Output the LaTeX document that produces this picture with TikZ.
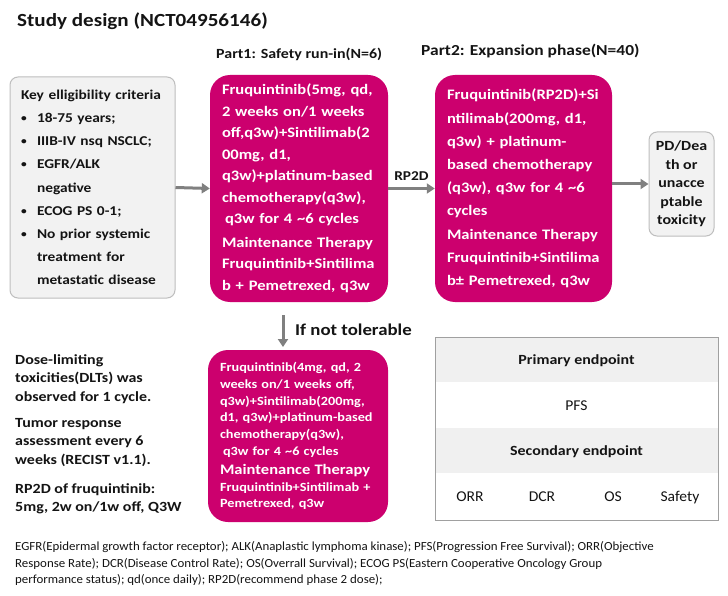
\documentclass[tikz,border=0pt]{standalone}
\usepackage{fontspec}
\setmainfont{Carlito}[BoldFeatures={FakeStretch=1.14}, UprightFeatures={FakeStretch=1.04}]
\usetikzlibrary{arrows.meta,calc}
\definecolor{pinkc}{RGB}{204,0,110}
\definecolor{boxgray}{RGB}{242,242,242}
\definecolor{bordergray}{RGB}{190,190,190}
\definecolor{arrowgray}{RGB}{128,128,128}
\definecolor{tblgray}{RGB}{240,240,240}
\definecolor{tblborder}{RGB}{160,160,160}
\definecolor{txt}{RGB}{20,20,20}
\tikzset{
  pinkbox/.style={fill=pinkc, rounded corners=20pt, text=white, align=left, inner xsep=12pt, inner ysep=0pt,
    font=\bfseries\fontsize{14.5}{21.5}\selectfont},
  graybox/.style={fill=boxgray, draw=bordergray, line width=1pt, rounded corners=8pt, text=txt, inner ysep=0pt},
  garrow/.style={draw=arrowgray, line width=3pt, -{Triangle[length=8pt,width=10pt]}},
  lbl/.style={anchor=base west, inner sep=0pt, text=txt},
  tcell/.style={anchor=base, inner sep=0pt, text=txt, font=\fontsize{15}{18}\selectfont},
  lowtxt/.style={anchor=north west, inner sep=0pt, text=txt, align=left, font=\bfseries\fontsize{14}{18.5}\selectfont},
}
\newcommand{\bul}{\makebox[16pt][l]{\raisebox{1pt}{\fontsize{10}{10}\selectfont\textbullet}}}
\begin{document}
\begin{tikzpicture}[x=1pt,y=-1pt]
\useasboundingbox[fill=white] (0,0) rectangle (728,596);

% title and part labels
\node[lbl, font=\bfseries\fontsize{18.5}{22}\selectfont] (title) at (17,27) {Study design (NCT04956146)};
\node[lbl, font=\bfseries\fontsize{14}{16}\selectfont] (part1) at (216,59) {Part1: Safety run-in(N=6)};
\node[lbl, font=\bfseries\fontsize{15.3}{18}\selectfont] (part2) at (421,56) {Part2: Expansion phase(N=40)};

% criteria box
\node[graybox, minimum width=165pt, minimum height=221pt, text width=143pt, inner xsep=11pt, align=left,
  font=\bfseries\fontsize{13.5}{23.2}\selectfont] (crit) at (92.5,187.5)
{Key elligibility criteria\\
\bul 18-75 years;\\
\bul IIIB-IV nsq NSCLC;\\
\bul EGFR/ALK\\
\hspace*{16pt}negative\\
\bul ECOG PS 0-1;\\
\bul No prior systemic\\
\hspace*{16pt}treatment for\\
\hspace*{16pt}metastatic disease};

% pink box 1
\node[pinkbox, minimum width=178pt, minimum height=227pt, text width=154pt] (p1) at (299,188.5)
{Fruquintinib(5mg, qd,\\
2 weeks on/1 weeks\\
off,q3w)+Sintilimab(2\\
00mg, d1,\\
q3w)+platinum-based\\
chemotherapy(q3w),\\
\hspace*{3pt}q3w for 4 \textasciitilde6 cycles\\[2pt]
Maintenance Therapy\\
Fruquintinib+Sintilima\\
b + Pemetrexed, q3w};

% pink box 2
\node[pinkbox, minimum width=177pt, minimum height=227pt, text width=153pt,
  font=\bfseries\fontsize{14.5}{23.2}\selectfont] (p2) at (523.5,188.5)
{Fruquintinib(RP2D)+Si\\
ntilimab(200mg, d1,\\
q3w) + platinum-\\
based chemotherapy\\
(q3w), q3w for 4 \textasciitilde6\\
cycles\\
Maintenance Therapy\\
Fruquintinib+Sintilima\\
b\textpm{} Pemetrexed, q3w};

% PD box
\node[graybox, minimum width=65pt, minimum height=104pt, inner xsep=2pt, align=center,
  font=\bfseries\fontsize{14}{18.5}\selectfont] (pd) at (681.5,184)
{PD/Dea\\th or\\unacce\\ptable\\toxicity};

% pink box 3
\node[pinkbox, minimum width=180pt, minimum height=172pt, text width=156pt,
  font=\bfseries\fontsize{12.5}{16.8}\selectfont] (p3) at (298,436)
{Fruquintinib(4mg, qd, 2\\
weeks on/1 weeks off,\\
q3w)+Sintilimab(200mg,\\
d1, q3w)+platinum-based\\
chemotherapy(q3w),\\
\hspace*{3pt}q3w for 4 \textasciitilde6 cycles\\[2pt]
{\fontsize{14.5}{17}\selectfont Maintenance Therapy}\\
Fruquintinib+Sintilimab +\\
Pemetrexed, q3w};

% arrows
\draw[garrow] (crit.east) -- (p1.west);
\draw[garrow] (p1.east) -- node[above=3pt, text=txt, font=\bfseries\fontsize{13.5}{16}\selectfont, pos=0.5] (rp2d) {RP2D} (p2.west);
\draw[garrow] (p2.east |- pd.west) -- (pd.west);
\coordinate (dtop) at ($(p1.south)+(-16,13)$);
\coordinate (dbot) at ($(p3.north)+(-15,-3)$);
\draw[garrow] (dtop) -- (dbot |- 0,347);
\node[lbl, font=\bfseries\fontsize{16.5}{18}\selectfont] (ifnot) at (295,335) {If not tolerable};

% left lower text
\node[lowtxt] (dlt) at (15,354)
{Dose-limiting\\ toxicities(DLTs) was\\ observed for 1 cycle.};
\node[lowtxt] (tumor) at (15,418)
{Tumor response\\ assessment every 6\\ weeks (RECIST v1.1).};
\node[lowtxt] (rp2dtxt) at (15,483)
{RP2D of fruquintinib:\\ 5mg, 2w on/1w off, Q3W};

% endpoint table
\fill[tblgray] (435,337) rectangle (718,382);
\fill[tblgray] (435,428) rectangle (718,473);
\node[draw=tblborder, line width=1pt, minimum width=283pt, minimum height=183pt, inner sep=0pt] (tbl) at (576.5,428.5) {};
\node[tcell, font=\bfseries\fontsize{14}{16}\selectfont] (prim) at (576.5,364) {Primary endpoint};
\node[tcell] (pfs) at (576.5,410) {PFS};
\node[tcell, font=\bfseries\fontsize{14}{16}\selectfont] (sec) at (576.5,455) {Secondary endpoint};
\node[tcell] (orr) at (470,501) {ORR};
\node[tcell] (dcr) at (542,501) {DCR};
\node[tcell] (os) at (613,501) {OS};
\node[tcell] (safety) at (680,501) {Safety};

% footnote
\node[anchor=north west, inner sep=0pt, text=txt, align=left, font=\fontsize{12.4}{16.8}\selectfont] (foot) at (15,541)
{EGFR(Epidermal growth factor receptor); ALK(Anaplastic lymphoma kinase); PFS(Progression Free Survival); ORR(Objective\\
Response Rate); DCR(Disease Control Rate); OS(Overrall Survival); ECOG PS(Eastern Cooperative Oncology Group\\
performance status); qd(once daily); RP2D(recommend phase 2 dose);};
\end{tikzpicture}
\end{document}
